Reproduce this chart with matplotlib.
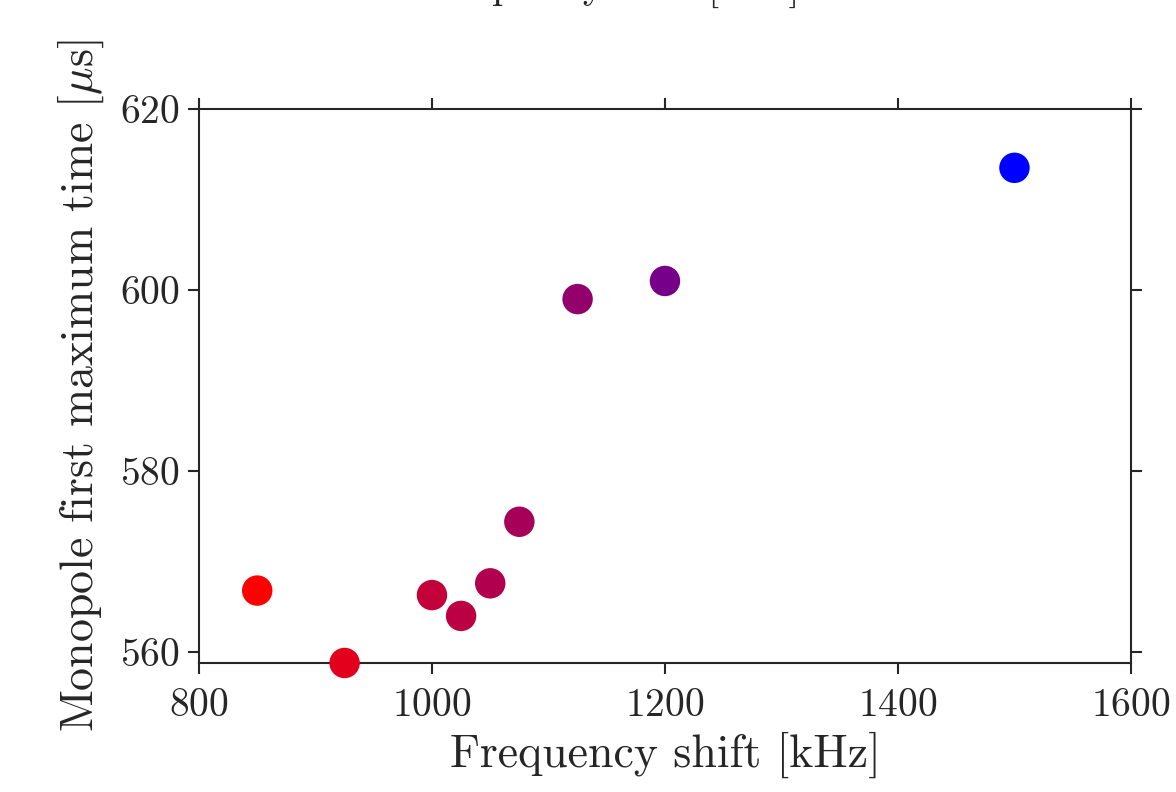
import numpy as np
import matplotlib
matplotlib.use('Agg')
import matplotlib.pyplot as plt
from matplotlib.colors import LinearSegmentedColormap, Normalize

plt.rcParams['font.family'] = 'serif'
plt.rcParams['font.serif'] = ['cmr10']
plt.rcParams['mathtext.fontset'] = 'cm'
plt.rcParams['axes.formatter.use_mathtext'] = True

# data
freq = [850, 925, 1000, 1025, 1050, 1075, 1125, 1200, 1500]  # kHz
t_max = [566.8, 558.8, 566.3, 564.0, 567.6, 574.4, 599.0, 601.0, 613.5]  # us
x_ticks = [800, 1000, 1200, 1400, 1600]
y_ticks = [560, 580, 600, 620]

dark = '#262626'
cmap = LinearSegmentedColormap.from_list('rb', [(1, 0, 0), (0, 0, 1)])
norm = Normalize(vmin=min(freq), vmax=max(freq))

fig = plt.figure(figsize=(11.76, 7.92), dpi=100)
ax = fig.add_axes([0.1692, 0.1629, 0.9617 - 0.1692, 0.8624 - 0.1629])

ax.scatter(freq, t_max, c=freq, cmap=cmap, norm=norm, s=480,
           edgecolors='none', zorder=3, clip_on=False)

ax.set_xlim(800, 1600)
ax.set_ylim(min(t_max), 620)
ax.set_xticks(x_ticks)
ax.set_yticks(y_ticks)
ax.tick_params(direction='out', length=8, width=1.5, colors=dark,
               labelsize=28.5, top=True, right=True, pad=6)
ax.tick_params(axis='x', pad=10)
for s in ax.spines:
    ax.spines[s].set_color(dark)
    ax.spines[s].set_linewidth(1.5)

ax.set_xlabel('Frequency shift [kHz]', fontsize=33, color=dark, labelpad=6)
ax.set_ylabel(r'Monopole first maximum time [$\mu$s]', fontsize=33,
              color=dark, labelpad=10)

# title sits above the canvas, only its descenders show
fig.text(0.519, 1.0 + 1 / 792, 'Frequency shift [kHz]', fontsize=29,
         color=dark, ha='center', va='baseline')

fig.savefig('out.png', dpi=100)
